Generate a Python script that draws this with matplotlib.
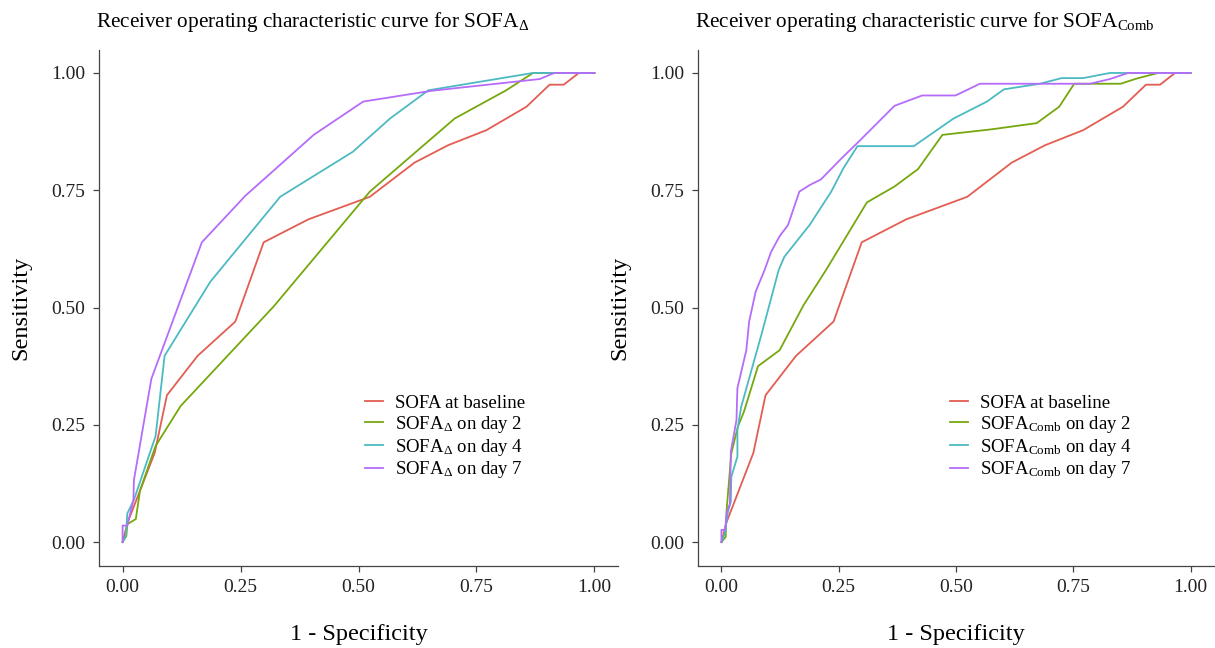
import matplotlib
matplotlib.use("Agg")
import matplotlib.pyplot as plt

plt.rcParams['font.family'] = ['Liberation Serif', 'DejaVu Serif']
plt.rcParams['mathtext.fontset'] = 'custom'
plt.rcParams['mathtext.rm'] = 'Liberation Serif'
plt.rcParams['mathtext.it'] = 'Liberation Serif:italic'
plt.rcParams['mathtext.bf'] = 'Liberation Serif:bold'

colors = ['#E35D52', '#76A80E', '#4CBAC2', '#B56CFA']

# SOFA at baseline (both panels)
base_fpr = [0, 0.01, 0.068, 0.094, 0.159, 0.239, 0.299, 0.394, 0.524, 0.619, 0.69, 0.771, 0.856, 0.905, 0.935, 0.967, 1.0]
base_tpr = [0, 0.04, 0.19, 0.313, 0.397, 0.47, 0.639, 0.688, 0.736, 0.809, 0.846, 0.878, 0.928, 0.975, 0.975, 1.0, 1.0]

# SOFA delta
d2_fpr = [0, 0.008, 0.01, 0.028, 0.037, 0.07, 0.123, 0.32, 0.524, 0.704, 0.813, 0.87, 1.0]
d2_tpr = [0, 0.013, 0.038, 0.049, 0.11, 0.205, 0.29, 0.502, 0.747, 0.903, 0.963, 1.0, 1.0]
d4_fpr = [0, 0.007, 0.01, 0.024, 0.07, 0.089, 0.186, 0.334, 0.488, 0.567, 0.648, 0.87, 1.0]
d4_tpr = [0, 0.013, 0.061, 0.09, 0.226, 0.397, 0.555, 0.736, 0.832, 0.903, 0.963, 1.0, 1.0]
d7_fpr = [0, 0, 0.01, 0.023, 0.024, 0.061, 0.168, 0.26, 0.405, 0.51, 0.655, 0.884, 0.915, 1.0]
d7_tpr = [0, 0.035, 0.035, 0.09, 0.132, 0.348, 0.639, 0.738, 0.868, 0.939, 0.962, 0.987, 1.0, 1.0]

# SOFA comb
c2_fpr = [0, 0.009, 0.011, 0.021, 0.035, 0.048, 0.078, 0.124, 0.175, 0.223, 0.31, 0.369, 0.419, 0.471, 0.577, 0.672, 0.72, 0.752, 0.851, 0.885, 0.931, 1.0]
c2_tpr = [0, 0.011, 0.068, 0.189, 0.246, 0.278, 0.375, 0.409, 0.505, 0.58, 0.724, 0.758, 0.795, 0.868, 0.88, 0.893, 0.928, 0.977, 0.977, 0.988, 1.0, 1.0]
c4_fpr = [0, 0.007, 0.014, 0.02, 0.021, 0.034, 0.034, 0.042, 0.086, 0.122, 0.134, 0.188, 0.234, 0.26, 0.29, 0.41, 0.495, 0.566, 0.602, 0.679, 0.725, 0.771, 0.828, 1.0]
c4_tpr = [0, 0.018, 0.065, 0.086, 0.139, 0.182, 0.239, 0.288, 0.445, 0.58, 0.608, 0.676, 0.747, 0.797, 0.844, 0.844, 0.903, 0.939, 0.965, 0.977, 0.989, 0.989, 1.0, 1.0]
c7_fpr = [0, 0, 0.008, 0.011, 0.018, 0.02, 0.032, 0.034, 0.053, 0.059, 0.073, 0.092, 0.106, 0.124, 0.142, 0.166, 0.188, 0.212, 0.258, 0.29, 0.369, 0.428, 0.499, 0.551, 0.786, 0.828, 0.867, 1.0]
c7_tpr = [0, 0.026, 0.026, 0.061, 0.082, 0.193, 0.26, 0.328, 0.409, 0.47, 0.534, 0.58, 0.619, 0.652, 0.676, 0.747, 0.761, 0.773, 0.82, 0.851, 0.93, 0.952, 0.952, 0.977, 0.977, 0.987, 1.0, 1.0]

ticks = [0.0, 0.25, 0.5, 0.75, 1.0]
tick_labels = ['0.00', '0.25', '0.50', '0.75', '1.00']

left_labels = ['SOFA at baseline', r'SOFA$_{\Delta}$ on day 2', r'SOFA$_{\Delta}$ on day 4', r'SOFA$_{\Delta}$ on day 7']
right_labels = ['SOFA at baseline', r'SOFA$_{\mathrm{Comb}}$ on day 2', r'SOFA$_{\mathrm{Comb}}$ on day 4', r'SOFA$_{\mathrm{Comb}}$ on day 7']

W, H = 1215, 648
fig = plt.figure(figsize=(W / 100, H / 100), dpi=100)

def px_axes(l, t, r, b):
    return fig.add_axes([l / W, 1 - b / H, (r - l) / W, (b - t) / H])

axL = px_axes(99, 49.5, 618, 565.5)
axR = px_axes(698, 49.5, 1214, 565.5)

panels = [
    (axL, [(base_fpr, base_tpr), (d2_fpr, d2_tpr), (d4_fpr, d4_tpr), (d7_fpr, d7_tpr)], left_labels,
     r'Receiver operating characteristic curve for SOFA$_{\Delta}$', 0.5125),
    (axR, [(base_fpr, base_tpr), (c2_fpr, c2_tpr), (c4_fpr, c4_tpr), (c7_fpr, c7_tpr)], right_labels,
     r'Receiver operating characteristic curve for SOFA$_{\mathrm{Comb}}$', 0.488),
]

for ax, series, labels, title, lx in panels:
    for (fx, ty), c, lab in zip(series, colors, labels):
        ax.plot(fx, ty, color=c, lw=1.3, label=lab)
    ax.set_xlim(-0.05, 1.05)
    ax.set_ylim(-0.05, 1.05)
    ax.set_xticks(ticks)
    ax.set_xticklabels(tick_labels)
    ax.set_yticks(ticks)
    ax.set_yticklabels(tick_labels)
    for s in ['top', 'right']:
        ax.spines[s].set_visible(False)
    for s in ['left', 'bottom']:
        ax.spines[s].set_color('#444444')
        ax.spines[s].set_linewidth(0.9)
    ax.tick_params(axis='both', labelsize=14, length=4, width=0.9, color='#444444', labelcolor='#222222', pad=6)
    ax.set_xlabel('1 - Specificity', fontsize=17.5, labelpad=20)
    ax.set_ylabel('Sensitivity', fontsize=17.5, labelpad=14)
    ax.set_title(title, fontsize=15.3, loc='left', x=-0.005, pad=16)
    ax.legend(loc='upper left', bbox_to_anchor=(lx, 0.331), frameon=False, fontsize=13.5,
              handlelength=0.96, handletextpad=0.65, labelspacing=0.1, borderpad=0, borderaxespad=0)

fig.savefig('out.png', dpi=100)
